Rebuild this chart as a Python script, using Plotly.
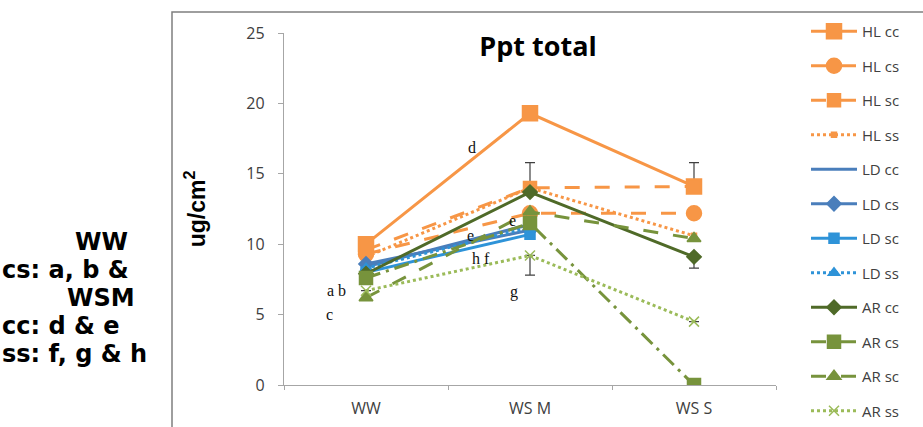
import plotly.graph_objects as go

categories = ["WW", "WS M", "WS S"]

series_names = ["HL cc", "HL cs", "HL sc", "HL ss",
                "LD cc", "LD cs", "LD sc", "LD ss",
                "AR cc", "AR cs", "AR sc", "AR ss"]

hl_cc = [10.0, 19.3, 14.1]
hl_cs = [9.3, 12.2, 12.2]
hl_sc = [9.6, 14.0, 14.1]
hl_ss = [9.1, 14.0, 10.6]
ld_cc = [8.4, 11.4, None]
ld_cs = [8.6, 11.0, None]
ld_sc = [8.0, 10.7, None]
ld_ss = [8.3, 11.2, None]
ar_cc = [7.9, 13.7, 9.1]
ar_cs = [7.6, 11.5, 0.0]
ar_sc = [6.2, 12.3, 10.4]
ar_ss = [6.7, 9.2, 4.5]

# error bars (plus / minus)
hl_cc_err_plus = [0, 0, 1.7]
hl_cc_err_minus = [0, 0, 0]
hl_sc_err_plus = [0, 1.8, 0]
hl_sc_err_minus = [0, 0, 0]
ar_cc_err_plus = [0, 0, 0]
ar_cc_err_minus = [0, 0, 0.8]
ar_ss_err_plus = [0, 0, 0]
ar_ss_err_minus = [0, 1.4, 0]

letter_labels = ["d", "e", "h f", "e", "g", "a b", "c"]
letter_x = [0.648, 0.636, 0.70, 0.893, 0.902, -0.18, -0.22]
letter_y = [16.9, 10.6, 9.0, 11.7, 6.6, 6.7, 5.0]

side_lines = ["WW", "cs: a, b &", "WSM", "cc: d & e", "ss: f, g & h"]

ORANGE = "#F79646"
BLUE = "#4A7EBB"
BLUE2 = "#2E93D8"
DKGREEN = "#4F6A28"
GREEN = "#77933C"
LTGREEN = "#9BBB59"

values = [hl_cc, hl_cs, hl_sc, hl_ss, ld_cc, ld_cs, ld_sc, ld_ss, ar_cc, ar_cs, ar_sc, ar_ss]
styles = [
    dict(color=ORANGE, dash="solid", symbol="square", size=15),
    dict(color=ORANGE, dash="longdash", symbol="circle", size=15),
    dict(color=ORANGE, dash="longdash", symbol="square", size=13),
    dict(color=ORANGE, dash="dot", symbol="square", size=5),
    dict(color=BLUE, dash="solid", symbol="line-ew", size=1),
    dict(color=BLUE, dash="solid", symbol="diamond", size=11),
    dict(color=BLUE2, dash="solid", symbol="square", size=10),
    dict(color=BLUE2, dash="dot", symbol="triangle-up", size=10),
    dict(color=DKGREEN, dash="solid", symbol="diamond", size=11),
    dict(color=GREEN, dash="longdashdot", symbol="square", size=13),
    dict(color=GREEN, dash="longdash", symbol="triangle-up", size=12),
    dict(color=LTGREEN, dash="dot", symbol="x-thin-open", size=10),
]
errors = {
    0: (hl_cc_err_plus, hl_cc_err_minus),
    2: (hl_sc_err_plus, hl_sc_err_minus),
    8: (ar_cc_err_plus, ar_cc_err_minus),
    11: (ar_ss_err_plus, ar_ss_err_minus),
}

fig = go.Figure()
for i, (name, vals, st) in enumerate(zip(series_names, values, styles)):
    kw = {}
    if i in errors:
        p, m = errors[i]
        kw["error_y"] = dict(type="data", symmetric=False, array=p, arrayminus=m,
                             color="#404040", thickness=1.2, width=5)
    fig.add_trace(go.Scatter(
        x=categories, y=vals, name=name, mode="lines+markers",
        line=dict(color=st["color"], dash=st["dash"], width=3),
        marker=dict(color=st["color"], symbol=st["symbol"], size=st["size"],
                    line=dict(color=st["color"], width=1.5)),
        legendgroup=name, connectgaps=False, **kw))

annotations = []
for t, x, y in zip(letter_labels, letter_x, letter_y):
    annotations.append(dict(x=x, y=y, xref="x", yref="y", text=t, showarrow=False,
                            font=dict(family="Liberation Serif", size=16, color="#111111")))

# side note lines: figure-pixel anchor (x), center y
side_px = [101, 0, 101, 0, 0]
side_anchor = ["center", "left", "center", "left", "left"]
side_py = [242, 270, 298, 326, 354]
for t, px, anc, py in zip(side_lines, side_px, side_anchor, side_py):
    annotations.append(dict(
        x=(px - 284) / 492, xref="paper",
        y=(385 - py) / 352, yref="paper", yanchor="middle",
        text=f"<b>{t}</b>", showarrow=False, xanchor=anc,
        font=dict(family="DejaVu Sans", size=24, color="#000000")))

fig.update_layout(
    width=923, height=427,
    margin=dict(l=284, r=147, t=33, b=42),
    paper_bgcolor="white", plot_bgcolor="white",
    title=dict(text="<b>Ppt total</b>", x=538 / 923, xanchor="center",
               y=1 - 47 / 427, yanchor="middle",
               font=dict(family="Open Sans", size=27, color="#000000")),
    xaxis=dict(type="category", range=[-0.5, 2.5], tickson="boundaries",
               showline=True, linecolor="#A6A6A6", linewidth=1.3,
               ticks="outside", ticklen=4, tickcolor="#A6A6A6", showgrid=False,
               zeroline=False, ticklabelstandoff=9, automargin=False,
               tickfont=dict(family="Open Sans", size=16, color="#404040")),
    yaxis=dict(range=[0, 25], tickvals=[0, 5, 10, 15, 20, 25],
               showline=True, linecolor="#A6A6A6", linewidth=1.3,
               ticks="outside", ticklen=5, tickcolor="#A6A6A6", showgrid=False,
               zeroline=False, ticklabelstandoff=10, automargin=False,
               tickfont=dict(family="Open Sans", size=16, color="#404040"),
               title=dict(text="<b>ug/cm<sup>2</sup></b>", standoff=34,
                          font=dict(family="Liberation Sans", size=23, color="#000000"))),
    legend=dict(x=(806 - 284) / 492, xanchor="left", y=1.049, yanchor="top",
                tracegroupgap=12, font=dict(family="Open Sans", size=15, color="#404040"),
                itemwidth=46, bgcolor="rgba(0,0,0,0)", maxheight=430),
    annotations=annotations,
    shapes=[dict(type="rect", xref="paper", yref="paper",
                 x0=(172 - 284) / 492, x1=(940 - 284) / 492,
                 y0=(385 - 450) / 352, y1=(385 - 12) / 352,
                 line=dict(color="#7F7F7F", width=1.5), fillcolor="rgba(0,0,0,0)",
                 layer="below")],
)

fig.write_html("out.html", config={"displayModeBar": False},
               post_script="document.body.style.margin='0';document.body.style.overflow='hidden';")
